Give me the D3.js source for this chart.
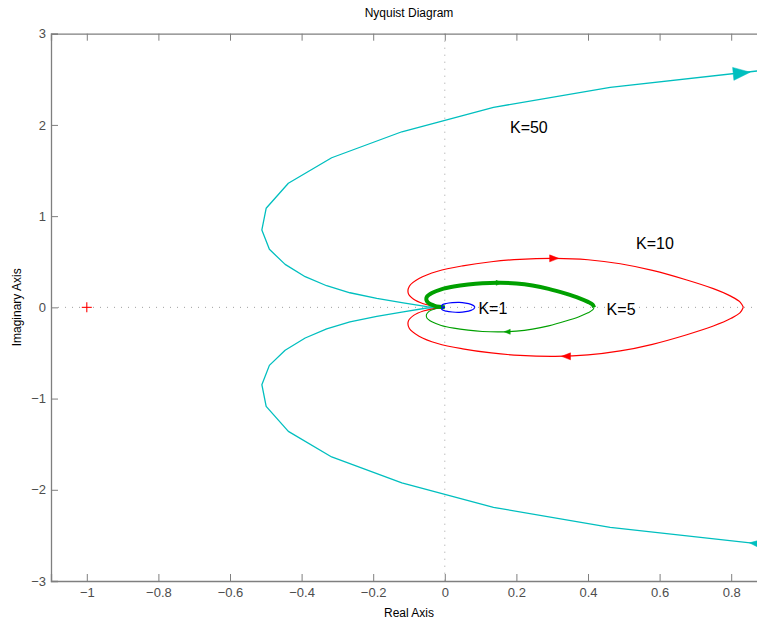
<!DOCTYPE html>
<html><head><meta charset="utf-8">
<script src="https://cdn.jsdelivr.net/npm/d3@7"></script>
<style>
body{margin:0;background:#fff;}
svg{display:block;font-family:"Liberation Sans",Arial,Helvetica,sans-serif;}
</style></head>
<body><div id="chart"></div>
<script>
// ---------- data ----------
const xTicks = [-1, -0.8, -0.6, -0.4, -0.2, 0, 0.2, 0.4, 0.6, 0.8];
const yTicks = [-3, -2, -1, 0, 1, 2, 3];
const gains = ["K=1", "K=5", "K=10", "K=50"];

// K=50 (cyan) - upper branch from origin outward
const k50UpRe = [0, -0.050, -0.116, -0.190, -0.265, -0.330, -0.390, -0.446, -0.490, -0.511, -0.499, -0.437, -0.316, -0.120, 0.136, 0.462, 0.872, 0.95];
const k50UpIm = [0, 0.007, 0.050, 0.099, 0.160, 0.237, 0.336, 0.471, 0.636, 0.848, 1.086, 1.360, 1.640, 1.925, 2.193, 2.412, 2.591, 2.625];
// K=50 lower branch
const k50LoRe = [0, -0.050, -0.116, -0.190, -0.265, -0.330, -0.390, -0.446, -0.490, -0.511, -0.499, -0.437, -0.316, -0.120, 0.136, 0.462, 0.872, 0.95];
const k50LoIm = [0, -0.007, -0.050, -0.099, -0.160, -0.237, -0.336, -0.471, -0.636, -0.848, -1.086, -1.360, -1.640, -1.925, -2.193, -2.412, -2.591, -2.625];

// K=10 (red)
const k10UpRe = [0, -0.030, -0.060, -0.087, -0.102, -0.099, -0.072, -0.020, 0.050, 0.130, 0.210, 0.308, 0.400, 0.490, 0.580, 0.676, 0.750, 0.800, 0.825, 0.834];
const k10UpIm = [0, 0.013, 0.040, 0.088, 0.153, 0.232, 0.316, 0.396, 0.455, 0.500, 0.527, 0.537, 0.522, 0.478, 0.405, 0.300, 0.205, 0.120, 0.058, 0];
const k10LoRe = [0, -0.030, -0.060, -0.087, -0.102, -0.099, -0.072, -0.020, 0.050, 0.130, 0.210, 0.308, 0.400, 0.490, 0.580, 0.676, 0.750, 0.800, 0.825, 0.834];
const k10LoIm = [0, -0.013, -0.040, -0.088, -0.153, -0.232, -0.316, -0.396, -0.455, -0.500, -0.527, -0.537, -0.522, -0.478, -0.405, -0.300, -0.205, -0.120, -0.058, 0];

// K=5 (green)
const k5UpRe = [0, -0.015, -0.030, -0.044, -0.051, -0.050, -0.036, -0.010, 0.025, 0.065, 0.105, 0.154, 0.200, 0.245, 0.290, 0.338, 0.375, 0.400, 0.413, 0.417];
const k5UpIm = [0, 0.006, 0.020, 0.044, 0.077, 0.116, 0.158, 0.198, 0.228, 0.250, 0.264, 0.269, 0.261, 0.239, 0.203, 0.150, 0.102, 0.060, 0.029, 0];
const k5LoRe = [0, -0.015, -0.030, -0.044, -0.051, -0.050, -0.036, -0.010, 0.025, 0.065, 0.105, 0.154, 0.200, 0.245, 0.290, 0.338, 0.375, 0.400, 0.413, 0.417];
const k5LoIm = [0, -0.006, -0.020, -0.044, -0.077, -0.116, -0.158, -0.198, -0.228, -0.250, -0.264, -0.269, -0.261, -0.239, -0.203, -0.150, -0.102, -0.060, -0.029, 0];

// K=1 (blue)
const k1UpRe = [0, -0.006, -0.009, -0.006, 0.004, 0.021, 0.040, 0.058, 0.073, 0.081, 0.084];
const k1UpIm = [0, 0.004, 0.015, 0.030, 0.042, 0.051, 0.054, 0.047, 0.033, 0.017, 0];
const k1LoRe = [0, -0.006, -0.009, -0.006, 0.004, 0.021, 0.040, 0.058, 0.073, 0.081, 0.084];
const k1LoIm = [0, -0.004, -0.015, -0.030, -0.042, -0.051, -0.054, -0.047, -0.033, -0.017, 0];

// direction arrows: [re, im, dirRe, dirIm]
const arrowsK50 = [[0.853, 2.578, 1, 0.10], [0.851, -2.582, -1, 0.10]];
const arrowsK10 = [[0.318, 0.537, 1, 0], [0.326, -0.537, -1, 0]];
const arrowsK5 = [[0.160, 0.269, 1, 0], [0.166, -0.268, -1, 0]];

// label positions (data coords)
const labelRe = [0.094, 0.452, 0.534, 0.182];
const labelIm = [-0.005, -0.026, 0.705, 1.98];

// ---------- layout ----------
const W = 757, H = 623;
const L = 51, T = 33.7, B = 581, R = 767;

const svg = d3.select("#chart").append("svg").attr("width", W).attr("height", H);
const x = d3.scaleLinear().domain([-1.1, 0.9]).range([L, R]);
const y = d3.scaleLinear().domain([-3, 3]).range([B, T]);

const axisColor = "#7f7f7f";
const labelColor = "#4d4d4d";

svg.append("defs").append("clipPath").attr("id", "clip")
  .append("rect").attr("x", L).attr("y", T).attr("width", R - L).attr("height", B - T);

// dotted zero lines
svg.append("line").attr("x1", x(-1.1)).attr("x2", x(0.9)).attr("y1", y(0)).attr("y2", y(0))
  .attr("stroke", "#a0a0a0").attr("stroke-width", 1).attr("stroke-dasharray", "1,6");
svg.append("line").attr("x1", x(0)).attr("x2", x(0)).attr("y1", y(3)).attr("y2", y(-3))
  .attr("stroke", "#a0a0a0").attr("stroke-width", 1).attr("stroke-dasharray", "1,6");

// axes
const fmt = d => (d < 0 ? "\u2212" : "") + Math.abs(d);
const gx = svg.append("g").attr("transform", `translate(0,${B})`)
  .call(d3.axisBottom(x).tickValues(xTicks).tickSize(-7).tickPadding(7).tickFormat(fmt));
const gxt = svg.append("g").attr("transform", `translate(0,${T})`)
  .call(d3.axisTop(x).tickValues(xTicks).tickSize(-7).tickFormat(""));
const gy = svg.append("g").attr("transform", `translate(${L},0)`)
  .call(d3.axisLeft(y).tickValues(yTicks).tickSize(-7).tickPadding(5).tickFormat(fmt));
const gyr = svg.append("g").attr("transform", `translate(${R},0)`)
  .call(d3.axisRight(y).tickValues(yTicks).tickSize(-7).tickFormat(""));
[gx, gxt, gy, gyr].forEach(g => {
  g.select(".domain").attr("stroke", axisColor).attr("stroke-width", 1.3);
  g.selectAll(".tick line").attr("stroke", axisColor).attr("stroke-width", 1);
  g.selectAll(".tick text").attr("fill", labelColor).style("font-size", "13px")
    .style("font-family", "'Liberation Sans',Arial,sans-serif");
});

// curves
const plot = svg.append("g").attr("clip-path", "url(#clip)");
const zip = (re, im) => re.map((r, i) => [r, im[i]]);
const lineLin = d3.line().x(d => x(d[0])).y(d => y(d[1]));
const lineSmooth = d3.line().x(d => x(d[0])).y(d => y(d[1])).curve(d3.curveCatmullRom.alpha(0.5));

function curve(pts, gen, color, w) {
  plot.append("path").attr("d", gen(pts)).attr("fill", "none")
    .attr("stroke", color).attr("stroke-width", w).attr("stroke-linejoin", "round");
}
const cCyan = "#00bfbf", cRed = "#ff0000", cGreen = "#00a000", cBlue = "#0000ff";

curve(zip(k50UpRe, k50UpIm), lineLin, cCyan, 1.3);
curve(zip(k50LoRe, k50LoIm), lineLin, cCyan, 1.3);
curve(zip(k10UpRe, k10UpIm), lineSmooth, cRed, 1.2);
curve(zip(k10LoRe, k10LoIm), lineSmooth, cRed, 1.2);
curve(zip(k5LoRe, k5LoIm), lineSmooth, cGreen, 1.1);
curve(zip(k5UpRe, k5UpIm), lineSmooth, cGreen, 4);
curve(zip(k1UpRe, k1UpIm), lineSmooth, cBlue, 1.2);
curve(zip(k1LoRe, k1LoIm), lineSmooth, cBlue, 1.2);

function arrows(list, color, len, half) {
  list.forEach(a => {
    const px = x(a[0]), py = y(a[1]);
    const ang = Math.atan2(-a[3], a[2]);
    const ca = Math.cos(ang), sa = Math.sin(ang);
    const pts = [[px, py], [px - len * ca - half * sa, py - len * sa + half * ca], [px - len * ca + half * sa, py - len * sa - half * ca]];
    plot.append("path").attr("d", "M" + pts.join("L") + "Z").attr("fill", color).attr("stroke", color).attr("stroke-width", 0.5);
  });
}
arrows(arrowsK50, cCyan, 17, 6.5);
arrows(arrowsK10, cRed, 9, 3.5);
arrows(arrowsK5, cGreen, 6, 2.5);

// critical point
svg.append("g").attr("transform", `translate(${x(-1)},${y(0)})`)
  .selectAll("line").data([[-5, 0, 5, 0], [0, -5, 0, 5]]).enter().append("line")
  .attr("x1", d => d[0]).attr("y1", d => d[1]).attr("x2", d => d[2]).attr("y2", d => d[3])
  .attr("stroke", "#ff0000").attr("stroke-width", 1.1);

// K labels
svg.selectAll("text.k").data(gains).enter().append("text").attr("class", "k")
  .attr("x", (d, i) => x(labelRe[i])).attr("y", (d, i) => y(labelIm[i]))
  .attr("dy", "0.36em").text(d => d).style("font-size", "16px").attr("fill", "#000");

// titles
svg.append("text").attr("x", (L + R) / 2).attr("y", 17).attr("text-anchor", "middle")
  .style("font-size", "12px").attr("fill", "#000").text("Nyquist Diagram");
svg.append("text").attr("x", (L + R) / 2).attr("y", 617).attr("text-anchor", "middle")
  .style("font-size", "12px").attr("fill", "#000").text("Real Axis");
svg.append("text").attr("transform", `translate(21,${(T + B) / 2}) rotate(-90)`).attr("text-anchor", "middle")
  .style("font-size", "12px").attr("fill", "#000").text("Imaginary Axis");
</script></body></html>
